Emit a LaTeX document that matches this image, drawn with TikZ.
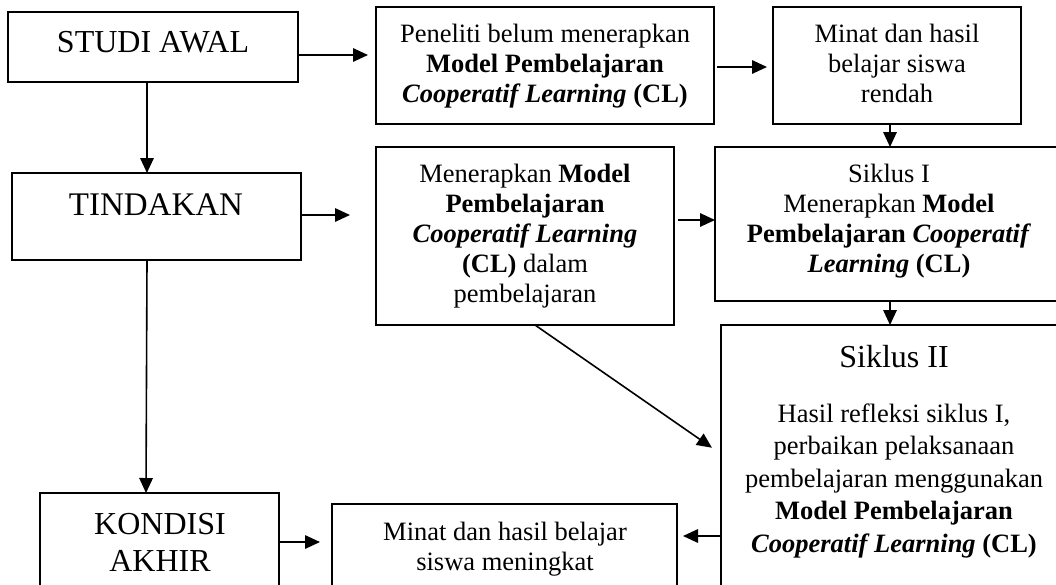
\documentclass[tikz,border=0pt]{standalone}
\usepackage{fontspec}
\setmainfont{Liberation Serif}
\usetikzlibrary{arrows.meta}
\newcommand\normtext{\fontsize{26.5}{30}\selectfont}
\newcommand\widetext{\fontsize{26.5}{32.5}\selectfont}
\newcommand\bigtext{\fontsize{32}{37}\selectfont}
\newcommand\bi[1]{\textbf{\textit{#1}}}
\tikzset{
  box/.style={draw, line width=2pt, inner sep=0pt, outer sep=0pt, anchor=north west},
  arr/.style={line width=1.6pt, -{Triangle[length=15pt,width=13.5pt]}},
  lbl/.style={anchor=north, inner sep=0pt, align=center, font=\normtext},
  widelbl/.style={anchor=north, inner sep=0pt, align=center, font=\widetext},
  biglbl/.style={anchor=north, inner sep=0pt, align=center, font=\bigtext},
  bigone/.style={anchor=base, inner sep=0pt, font=\bigtext},
}
\begin{document}
\begin{tikzpicture}[x=1pt,y=-1pt]
\useasboundingbox (0,0) rectangle (1056,584);
\fill[white] (0,0) rectangle (1056,584);

% boxes
\node[box, minimum width=290pt, minimum height=70pt]  (sa) at (8,12) {};
\node[box, minimum width=289pt, minimum height=87pt]  (td) at (12,173) {};
\node[box, minimum width=239pt, minimum height=110pt] (kd) at (40,493) {};
\node[box, minimum width=338pt, minimum height=117pt] (pn) at (376,7) {};
\node[box, minimum width=248pt, minimum height=117pt] (mn) at (773,7) {};
\node[box, minimum width=298pt, minimum height=178pt] (me) at (376,147) {};
\node[box, minimum width=350pt, minimum height=154pt] (s1) at (715,147) {};
\node[box, minimum width=338pt, minimum height=280pt] (s2) at (721,325) {};
\node[box, minimum width=345pt, minimum height=100pt] (m2) at (332,504) {};

% texts
\node[bigone] (tsa) at (153,52) {STUDI AWAL};
\node[bigone, font=\fontsize{33}{38}\selectfont] (ttd) at (156,215) {TINDAKAN};
\node[biglbl] (tkd) at (160,508) {\strut KONDISI\\\strut AKHIR};
\node[lbl] (tpn) at (545,21) {\strut Peneliti belum menerapkan\\\strut\textbf{Model Pembelajaran}\\\strut\bi{Cooperatif Learning} \textbf{(CL)}};
\node[lbl] (tmn) at (897,21) {\strut Minat dan hasil\\\strut belajar siswa\\\strut rendah};
\node[lbl] (tme) at (525,161) {\strut Menerapkan \textbf{Model}\\\strut\textbf{Pembelajaran}\\\strut\bi{Cooperatif Learning}\\\strut\textbf{(CL)} dalam\\\strut pembelajaran};
\node[lbl] (ts1) at (889,161) {\strut Siklus I\\\strut Menerapkan \textbf{Model}\\\strut\textbf{Pembelajaran} \bi{Cooperatif}\\\strut\bi{Learning} \textbf{(CL)}};
\node[bigone] (ts2a) at (894,367) {Siklus II};
\node[widelbl] (ts2b) at (894,399.25) {\strut Hasil refleksi siklus I,\\\strut perbaikan pelaksanaan\\\strut pembelajaran menggunakan\\\strut\textbf{Model Pembelajaran}\\\strut\bi{Cooperatif Learning} \textbf{(CL)}};
\node[lbl] (tm2) at (505,519) {\strut Minat dan hasil belajar\\\strut siswa meningkat};

% connectors
\draw[arr, shorten >=8pt] ([yshift=-8pt]sa.east) -- ([yshift=10.5pt]pn.west);
\draw[arr] ([xshift=-6pt]sa.south) -- ([xshift=-9.5pt]td.north);
\draw[arr, shorten >=26pt] ([yshift=1.5pt]td.east) -- ([yshift=21pt]me.west);
\draw[arr] ([xshift=-9.5pt]td.south) -- ([xshift=-13.5pt]kd.north);
\draw[arr, shorten <=3pt, shorten >=6pt] ([yshift=-1.5pt]pn.east) -- ([yshift=-1.5pt]mn.west);
\draw[arr] ([xshift=-7pt]mn.south) -- (s1.north);
\draw[arr, shorten <=4pt] ([yshift=16pt]me.east) -- ([yshift=4pt]s1.west);
\draw[arr] (s1.south) -- (s2.north);
\draw[arr, shorten >=11pt] ([xshift=10pt]me.south) -- ([yshift=11pt]s2.west);
\draw[arr, shorten >=6pt] ([yshift=-71pt]s2.west) -- ([yshift=18pt]m2.east);
\draw[arr, shorten >=12pt] ([yshift=6pt]kd.east) -- ([yshift=12pt]m2.west);
\end{tikzpicture}
\end{document}
